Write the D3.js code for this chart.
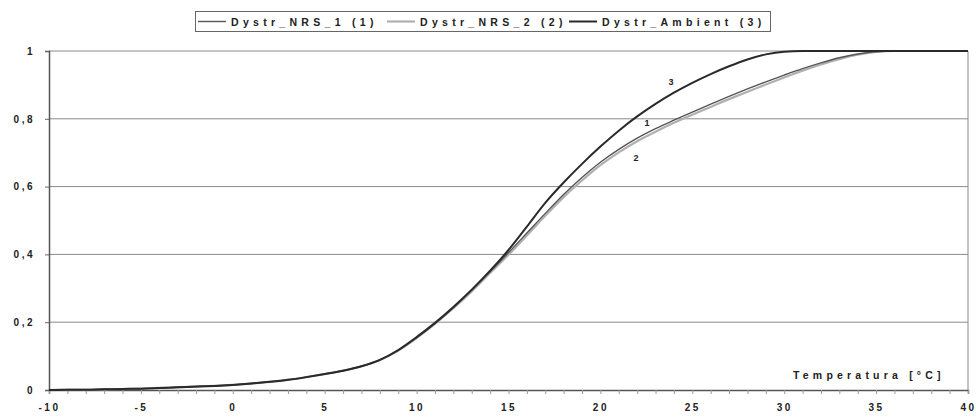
<!DOCTYPE html>
<html>
<head>
<meta charset="utf-8">
<script src="https://cdn.jsdelivr.net/npm/d3@7"></script>
<style>
  body { margin: 0; background: #fff; }
  text { font-family: "Liberation Sans", Arial, sans-serif; font-weight: bold; fill: #222; }
</style>
</head>
<body>
<svg id="chart"></svg>
<script>
// temperature grid [°C]
var temps = d3.range(-10, 41)

// cumulative distributions
var nrs1 = [0, 0.001, 0.001, 0.002, 0.003, 0.004, 0.006, 0.008, 0.010, 0.012,
  0.015, 0.019, 0.024, 0.030, 0.038, 0.047, 0.057, 0.070, 0.088, 0.116,
  0.154, 0.196, 0.243, 0.294, 0.349, 0.405, 0.463, 0.521, 0.577, 0.627,
  0.672, 0.710, 0.743, 0.771, 0.796, 0.820, 0.843, 0.866, 0.888, 0.909,
  0.929, 0.948, 0.965, 0.980, 0.991, 0.998, 1, 1, 1, 1, 1]
var nrs2 = [0, 0.001, 0.001, 0.002, 0.003, 0.004, 0.006, 0.008, 0.010, 0.012,
  0.015, 0.019, 0.024, 0.030, 0.038, 0.047, 0.057, 0.070, 0.088, 0.116,
  0.153, 0.195, 0.241, 0.291, 0.345, 0.399, 0.456, 0.514, 0.569, 0.618,
  0.663, 0.701, 0.734, 0.762, 0.788, 0.812, 0.835, 0.858, 0.880, 0.901,
  0.922, 0.942, 0.960, 0.976, 0.989, 0.997, 1, 1, 1, 1, 1]
var ambient = [0, 0.001, 0.001, 0.002, 0.003, 0.004, 0.006, 0.008, 0.010, 0.012,
  0.015, 0.019, 0.024, 0.030, 0.038, 0.047, 0.057, 0.070, 0.089, 0.118,
  0.156, 0.198, 0.245, 0.296, 0.352, 0.413, 0.482, 0.552, 0.612, 0.667,
  0.718, 0.765, 0.807, 0.844, 0.877, 0.906, 0.932, 0.955, 0.975, 0.990,
  0.998, 1, 1, 1, 1, 1, 1, 1, 1, 1, 1]

var seriesNames = ['Dystr_NRS_1 (1)', 'Dystr_NRS_2 (2)', 'Dystr_Ambient (3)']
var seriesTags = ['1', '2', '3']
var xTicks = [-10, -5, 0, 5, 10, 15, 20, 25, 30, 35, 40]
var yTicks = [0, 0.2, 0.4, 0.6, 0.8, 1]

var W = 976, H = 419
var svg = d3.select('#chart').attr('width', W).attr('height', H)

var x = d3.scaleLinear().domain([-10, 40]).range([49, 968])
var y = d3.scaleLinear().domain([0, 1]).range([390, 51])

// gridlines
svg.append('g').selectAll('line').data(yTicks.slice(1)).join('line')
  .attr('x1', x(-10)).attr('x2', x(40))
  .attr('y1', d => y(d)).attr('y2', d => y(d))
  .attr('stroke', '#8a8a8a').attr('stroke-width', 1)

// right border
svg.append('line').attr('x1', x(40)).attr('x2', x(40)).attr('y1', y(1)).attr('y2', y(0))
  .attr('stroke', '#8a8a8a')

// y axis
var yAxis = svg.append('g').attr('transform', 'translate(' + x(-10) + ',0)')
  .call(d3.axisLeft(y).tickValues(yTicks).tickSize(4).tickPadding(10)
    .tickFormat(d => d === 0 || d === 1 ? d : d3.format('.1f')(d).replace('.', ',')))
yAxis.select('.domain').attr('stroke', '#555').attr('stroke-width', 1.5)
yAxis.selectAll('.tick line').attr('stroke', '#666')
yAxis.selectAll('text').style('font-size', '10px').style('letter-spacing', '2.5px')
  .attr('font-family', null).attr('fill', '#222')

// x axis with unit minor ticks
var xAxis = svg.append('g').attr('transform', 'translate(0,' + y(0) + ')')
  .call(d3.axisBottom(x).tickValues(temps).tickSize(4).tickPadding(10)
    .tickFormat(d => xTicks.includes(d) ? d : ''))
xAxis.select('.domain').attr('stroke', '#555').attr('stroke-width', 1.5)
xAxis.selectAll('.tick line').attr('stroke', '#999')
xAxis.selectAll('text').style('font-size', '10px').style('letter-spacing', '2.5px')
  .attr('font-family', null).attr('fill', '#222')

// curves
var styles = [
  { data: nrs1, color: '#555', width: 1.4 },
  { data: nrs2, color: '#b0b0b0', width: 2.2 },
  { data: ambient, color: '#2a2a2a', width: 2 }
]
var line = d3.line().x((d, i) => x(temps[i])).y(d => y(d)).curve(d3.curveMonotoneX)
;[1, 0, 2].forEach(function (i) {
  svg.append('path').datum(styles[i].data)
    .attr('fill', 'none').attr('stroke', styles[i].color)
    .attr('stroke-width', styles[i].width).attr('d', line)
})

// curve tags
var tagPos = [[22.4, 0.78], [21.8, 0.675], [23.7, 0.9]]
svg.append('g').selectAll('text').data(seriesTags).join('text')
  .attr('x', (d, i) => x(tagPos[i][0])).attr('y', (d, i) => y(tagPos[i][1]))
  .style('font-size', '9px').text(d => d)

// axis title
svg.append('text').attr('x', 793).attr('y', 379)
  .style('font-size', '10.5px').style('letter-spacing', '4.2px')
  .text('Temperatura [°C]')

// legend
var lg = svg.append('g')
lg.append('rect').attr('x', 195.5).attr('y', 11.5).attr('width', 575).attr('height', 20)
  .attr('fill', '#fff').attr('stroke', '#666')
var legX = [198, 387, 569]
legX.forEach(function (lx, i) {
  lg.append('line').attr('x1', lx).attr('x2', lx + 28).attr('y1', 21.5).attr('y2', 21.5)
    .attr('stroke', styles[i].color).attr('stroke-width', styles[i].width)
  lg.append('text').attr('x', lx + 33).attr('y', 25.5)
    .style('font-size', '10.5px').style('letter-spacing', '4.3px')
    .text(seriesNames[i])
})
</script>
</body>
</html>
